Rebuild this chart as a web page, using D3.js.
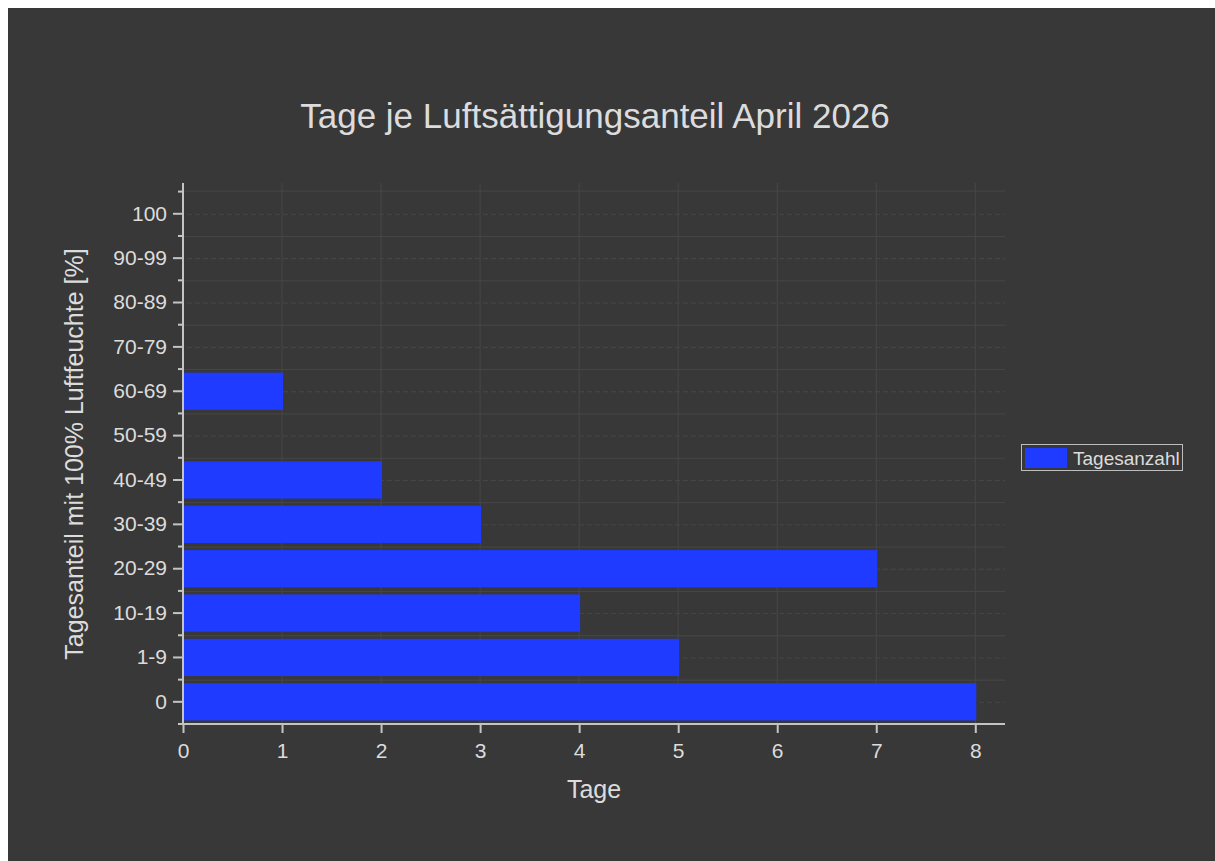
<!DOCTYPE html>
<html lang="de">
<head>
<meta charset="utf-8">
<title>Tage je Luftsättigungsanteil April 2026</title>
<script src="https://cdn.jsdelivr.net/npm/d3@7"></script>
<style>
  body { margin: 0; background: #ffffff; }
  svg { display: block; }
  text { font-family: "Liberation Sans", Arial, sans-serif; fill: #dcdcdc; }
</style>
</head>
<body>
<script>
// data
var categories = ["0", "1-9", "10-19", "20-29", "30-39", "40-49", "50-59", "60-69", "70-79", "80-89", "90-99", "100"];
var days = [8, 5, 4, 7, 3, 2, 0, 1, 0, 0, 0, 0];
var xTicks = [0, 1, 2, 3, 4, 5, 6, 7, 8];
var title = "Tage je Luftsättigungsanteil April 2026";
var xTitle = "Tage";
var yTitle = "Tagesanteil mit 100% Luftfeuchte [%]";
var seriesName = "Tagesanzahl";

var W = 1215, H = 861;
var bg = "#383838", fg = "#dcdcdc", axisCol = "#c4c4c4", gridCol = "#474747", barCol = "#1f3bff";
var font = "'Liberation Sans', Arial, sans-serif";

var svg = d3.select("body").append("svg").attr("width", W).attr("height", H);

svg.append("rect").attr("x", 8).attr("y", 8).attr("width", W - 8).attr("height", H - 8).attr("fill", bg);

var x = d3.scaleLinear().domain([0, 8.3]).range([183, 1005]);
var y = d3.scaleBand().domain(categories).range([724, 191.6]).paddingInner(0).paddingOuter(0);
var bw = y.bandwidth();

var plotTop = 183, plotBottom = 724;

// grid
var grid = svg.append("g");
grid.selectAll("line.vg").data(xTicks.filter(d => d > 0)).enter().append("line")
  .attr("x1", d => x(d)).attr("x2", d => x(d))
  .attr("y1", plotTop).attr("y2", plotBottom)
  .attr("stroke", gridCol).attr("stroke-width", 1);
grid.selectAll("line.hg").data(categories.slice(1).concat(["top"])).enter().append("line")
  .attr("x1", x(0)).attr("x2", x(8.3))
  .attr("y1", d => d === "top" ? y("100") - 0.5 : y(d) + bw + 0.5)
  .attr("y2", d => d === "top" ? y("100") - 0.5 : y(d) + bw + 0.5)
  .attr("stroke", gridCol).attr("stroke-width", 1);
grid.selectAll("line.hd").data(categories).enter().append("line")
  .attr("x1", x(0) + 4).attr("x2", x(8.3))
  .attr("y1", d => y(d) + bw / 2 + 0.5).attr("y2", d => y(d) + bw / 2 + 0.5)
  .attr("stroke", gridCol).attr("stroke-width", 1).attr("stroke-dasharray", "5,3");

// bars
svg.append("g").selectAll("rect").data(categories).enter().append("rect")
  .attr("x", x(0) + 1)
  .attr("y", d => y(d) + bw * 0.08)
  .attr("width", (d, i) => Math.max(0, x(days[i]) - x(0)))
  .attr("height", bw * 0.84)
  .attr("fill", barCol)
  .style("display", (d, i) => days[i] > 0 ? null : "none");

// x axis
var xAxis = svg.append("g").attr("transform", "translate(0," + plotBottom + ")")
  .call(d3.axisBottom(x).tickValues(xTicks).tickFormat(d3.format("d")).tickSize(9).tickPadding(10));
xAxis.select(".domain").attr("stroke", axisCol).attr("stroke-width", 2).attr("d", "M" + x(0) + ",0H1005");
xAxis.selectAll(".tick line").attr("stroke", axisCol).attr("stroke-width", 2);
xAxis.selectAll(".tick text").attr("fill", fg).style("font-size", "21px").style("font-family", font);

// y axis
var yAxis = svg.append("g").attr("transform", "translate(" + x(0) + ",0)")
  .call(d3.axisLeft(y).tickSize(10).tickPadding(6));
yAxis.select(".domain").attr("stroke", axisCol).attr("stroke-width", 2).attr("d", "M0," + plotBottom + "V" + plotTop);
yAxis.selectAll(".tick line").attr("stroke", axisCol).attr("stroke-width", 2);
yAxis.selectAll(".tick text").attr("fill", fg).style("font-size", "21px").style("font-family", font);

// minor y ticks at band edges
svg.append("g").selectAll("line").data(categories.concat(["top"])).enter().append("line")
  .attr("x1", x(0) - 5).attr("x2", x(0))
  .attr("y1", d => d === "top" ? y("100") : y(d) + bw)
  .attr("y2", d => d === "top" ? y("100") : y(d) + bw)
  .attr("stroke", axisCol).attr("stroke-width", 2);

// titles
svg.append("text").attr("x", 595).attr("y", 128).attr("text-anchor", "middle")
  .style("font-size", "35px").text(title);
svg.append("text").attr("x", 594).attr("y", 798).attr("text-anchor", "middle")
  .style("font-size", "25px").text(xTitle);
svg.append("text").attr("transform", "translate(83,454) rotate(-90)").attr("text-anchor", "middle")
  .style("font-size", "25px").text(yTitle);

// legend
var lg = svg.append("g");
lg.append("rect").attr("x", 1021.5).attr("y", 444.5).attr("width", 161).attr("height", 26)
  .attr("fill", "none").attr("stroke", "#bdbdbd").attr("stroke-width", 1);
lg.append("rect").attr("x", 1025).attr("y", 448).attr("width", 42).attr("height", 20).attr("fill", barCol);
lg.append("text").attr("x", 1073).attr("y", 465).style("font-size", "19px").text(seriesName);
</script>
</body>
</html>
